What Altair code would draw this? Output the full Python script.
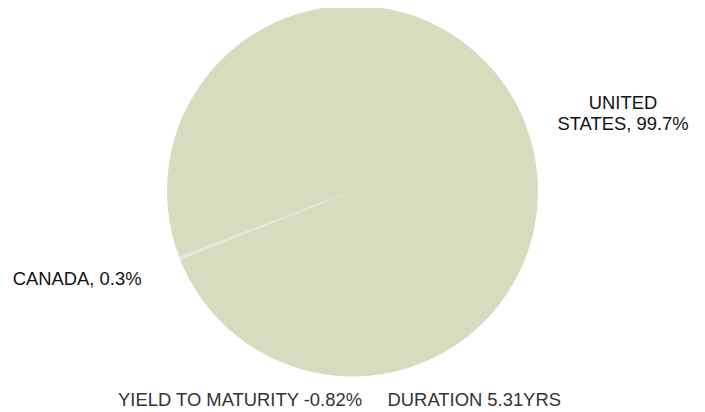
import altair as alt
import pandas as pd

countries = ["CANADA", "UNITED STATES"]
weights = [0.3, 99.7]
label_lines = [["CANADA, 0.3%"], ["UNITED", "STATES, 99.7%"]]
footer = "YIELD TO MATURITY -0.82%\u00a0\u00a0\u00a0\u00a0\u00a0DURATION 5.31YRS"

colors = ["#e4e6d2", "#d9dbbf"]

df = pd.DataFrame({"country": countries, "weight": weights, "order": [0, 1]})

start = 248.2 * 3.141592653589793 / 180
tau = 2 * 3.141592653589793

cx, cy, r = 344.5, 183, 185.5
fs = 18.4

pie = alt.Chart(df).mark_arc(outerRadius=r, stroke=None).encode(
    theta=alt.Theta("weight:Q", stack=True, scale=alt.Scale(range=[start, start + tau])),
    color=alt.Color("country:N", scale=alt.Scale(domain=countries, range=colors), legend=None),
    order=alt.Order("order:Q"),
    x=alt.value(cx),
    y=alt.value(cy),
)

us_label = alt.Chart(pd.DataFrame({"t": [label_lines[1]]})).mark_text(
    align="center", baseline="middle", fontSize=fs, font="Liberation Sans", color="#111111", lineHeight=20.5
).encode(text="t", x=alt.value(615), y=alt.value(95))

ca_label = alt.Chart(pd.DataFrame({"t": label_lines[0]})).mark_text(
    align="left", baseline="middle", fontSize=fs, font="Liberation Sans", color="#111111"
).encode(text="t", x=alt.value(4.7), y=alt.value(270.5))

foot = alt.Chart(pd.DataFrame({"t": [footer]})).mark_text(
    align="center", baseline="middle", fontSize=fs, font="Liberation Sans", color="#333333"
).encode(text="t", x=alt.value(331.5), y=alt.value(391.5))

chart = alt.layer(pie, us_label, ca_label, foot).properties(
    width=689, height=400, autosize=alt.AutoSizeParams(type="none"), padding=0
).configure_view(stroke=None)

chart.save("out.html", embed_options={"renderer": "svg", "actions": False})
